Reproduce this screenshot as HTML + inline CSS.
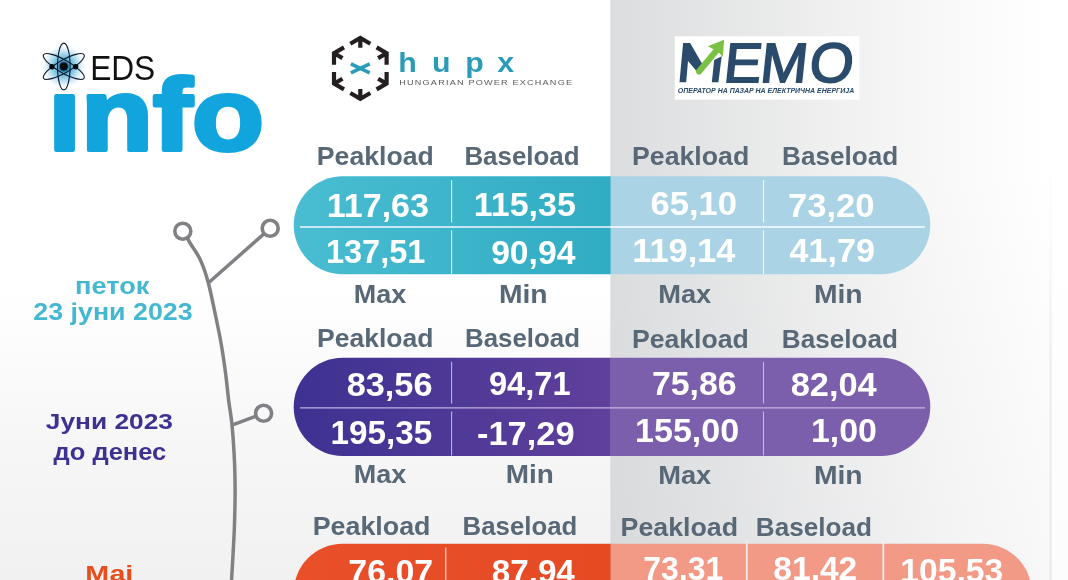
<!DOCTYPE html>
<html lang="mk"><head><meta charset="utf-8"><title>EDS info</title>
<style>html,body{margin:0;padding:0;background:#fff;}svg{display:block}text{white-space:pre}</style></head>
<body>
<svg width="1068" height="580" viewBox="0 0 1068 580">
<defs>
<linearGradient id="bgL" x1="0" y1="0" x2="0" y2="1"><stop offset="0" stop-color="#ffffff"/><stop offset="0.5" stop-color="#ffffff"/><stop offset="0.78" stop-color="#f6f6f7"/><stop offset="1" stop-color="#f1f1f2"/></linearGradient>
<linearGradient id="bgR" x1="0" y1="0" x2="1" y2="0"><stop offset="0" stop-color="#b9bbbd" stop-opacity="0.50"/><stop offset="0.25" stop-color="#b9bbbd" stop-opacity="0.37"/><stop offset="0.5" stop-color="#b9bbbd" stop-opacity="0.23"/><stop offset="0.75" stop-color="#b9bbbd" stop-opacity="0.10"/><stop offset="1" stop-color="#b9bbbd" stop-opacity="0.0"/></linearGradient>
<linearGradient id="g1" x1="0" y1="0" x2="1" y2="0"><stop offset="0" stop-color="#4abdd2"/><stop offset="1" stop-color="#30acc3"/></linearGradient>
<linearGradient id="g2" x1="0" y1="0" x2="1" y2="0"><stop offset="0" stop-color="#3d3192"/><stop offset="1" stop-color="#60409b"/></linearGradient>
<linearGradient id="g3" x1="0" y1="0" x2="1" y2="0"><stop offset="0" stop-color="#e9502a"/><stop offset="1" stop-color="#e54a23"/></linearGradient>
<radialGradient id="glow" cx="0.5" cy="0.5" r="0.5"><stop offset="0" stop-color="#2f9fd0" stop-opacity="1"/><stop offset="0.45" stop-color="#49abd6" stop-opacity="0.75"/><stop offset="1" stop-color="#7cc4e4" stop-opacity="0"/></radialGradient>
<linearGradient id="edge" x1="0" y1="0" x2="0" y2="1"><stop offset="0" stop-color="#f1f1f2" stop-opacity="0"/><stop offset="0.5" stop-color="#f0f0f1" stop-opacity="1"/><stop offset="1" stop-color="#ececed"/></linearGradient>
<linearGradient id="bgE" x1="0" y1="0" x2="0" y2="1"><stop offset="0" stop-color="#ffffff"/><stop offset="0.4" stop-color="#ffffff"/><stop offset="1" stop-color="#fcfcfc"/></linearGradient>
<linearGradient id="bgC" x1="0" y1="0" x2="0" y2="1"><stop offset="0" stop-color="#ffffff"/><stop offset="0.3" stop-color="#ffffff"/><stop offset="1" stop-color="#f8f8f9"/></linearGradient>
<clipPath id="c1"><rect x="293.7" y="176.2" width="636.6" height="98.1" rx="49" ry="49"/></clipPath>
<clipPath id="c2"><rect x="293.7" y="357.8" width="636.6" height="98.1" rx="49" ry="49"/></clipPath>
<clipPath id="c3"><rect x="293.7" y="543.7" width="738" height="98" rx="49" ry="49"/></clipPath>
</defs>
<rect x="0" y="0" width="1068" height="580" fill="#ffffff"/>
<rect x="0" y="0" width="1049.5" height="580" fill="url(#bgL)"/>
<rect x="610.3" y="0" width="439.2" height="580" fill="url(#bgC)"/>
<rect x="610.3" y="0" width="439.2" height="580" fill="url(#bgR)"/>
<rect x="1049.5" y="0" width="18.5" height="580" fill="url(#bgE)"/>
<rect x="1049.3" y="150" width="2.6" height="430" fill="url(#edge)"/>
<g clip-path="url(#c1)">
<rect x="290" y="175.2" width="320.8" height="100.10000000000002" fill="url(#g1)"/>
<rect x="610.8" y="175.2" width="321.5" height="100.10000000000002" fill="#aad4e5"/>
</g>
<g clip-path="url(#c2)">
<rect x="290" y="356.8" width="320.8" height="100.09999999999997" fill="url(#g2)"/>
<rect x="610.8" y="356.8" width="321.5" height="100.09999999999997" fill="#7b5fac"/>
</g>
<g clip-path="url(#c3)">
<rect x="290" y="542.7" width="320.8" height="100.29999999999995" fill="url(#g3)"/>
<rect x="610.8" y="542.7" width="423.20000000000005" height="100.29999999999995" fill="#f29a86"/>
</g>
<g stroke="#ffffff" stroke-opacity="0.92" stroke-width="1.1" fill="none">
<line x1="300" y1="227" x2="925" y2="227" stroke-width="1.3"/>
<line x1="451.6" y1="180.2" x2="451.6" y2="222.5"/>
<line x1="451.6" y1="230.5" x2="451.6" y2="273.8"/>
<line x1="763.5" y1="180.2" x2="763.5" y2="222.5"/>
<line x1="763.5" y1="230.5" x2="763.5" y2="273.8"/>
</g>
<g stroke="#cdbfe6" stroke-opacity="0.9" stroke-width="1.1" fill="none">
<line x1="300" y1="407.9" x2="925" y2="407.9" stroke-width="1.3"/>
<line x1="451.6" y1="361.8" x2="451.6" y2="403.4"/>
<line x1="451.6" y1="411.4" x2="451.6" y2="455.4"/>
<line x1="763.5" y1="361.8" x2="763.5" y2="403.4"/>
<line x1="763.5" y1="411.4" x2="763.5" y2="455.4"/>
</g>
<g stroke="#ffffff" stroke-opacity="0.8" fill="none">
<line x1="445.8" y1="547.5" x2="445.8" y2="580" stroke-width="1.1"/>
<line x1="746.8" y1="540.5" x2="746.8" y2="580" stroke-width="1.8" stroke="#ececed" stroke-opacity="1"/>
<line x1="883.3" y1="540.5" x2="883.3" y2="580" stroke-width="1.8" stroke="#f1f1f2" stroke-opacity="1"/>
</g>
<g stroke="#808184" stroke-width="3.5" fill="none" stroke-linecap="butt">
<path d="M187.4,237.6 C187.8,238.5 187.8,239.3 190.0,243.0 C192.2,246.7 197.4,253.5 200.4,260.0 C203.4,266.5 205.7,273.2 208.1,282.0 C210.5,290.8 212.8,302.7 215.0,313.0 C217.2,323.3 219.4,333.7 221.2,344.0 C223.0,354.3 224.6,365.7 225.8,375.0 C227.0,384.3 227.6,391.7 228.6,400.0 C229.6,408.3 231.0,414.5 232.0,424.8 C233.0,435.1 234.0,450.6 234.5,462.0 C235.0,473.4 235.1,482.7 235.1,493.0 C235.1,503.3 234.8,513.7 234.5,524.0 C234.2,534.3 233.5,545.3 233.0,555.0 C232.5,564.7 231.7,577.5 231.4,582.0"/>
<line x1="208.3" y1="283" x2="264.2" y2="233.6"/>
<line x1="232" y1="425.2" x2="256.1" y2="416.1"/>
<circle cx="182.8" cy="231.2" r="8" stroke-width="3.6"/>
<circle cx="270.2" cy="228.3" r="8" stroke-width="3.6"/>
<circle cx="263.6" cy="413.3" r="8" stroke-width="3.6"/>
</g>
<g stroke="#231f20" stroke-width="4.2" fill="none" stroke-linecap="butt" stroke-linejoin="miter">
<path d="M350.3,43.8 L360.3,38.0 L370.3,43.8 M360.3,38.0 L360.3,47.8"/>
<path d="M376.6,47.4 L386.6,53.2 L386.6,64.8 M386.6,53.2 L378.1,58.1"/>
<path d="M386.6,72.0 L386.6,83.6 L376.6,89.4 M386.6,83.6 L378.1,78.7"/>
<path d="M370.3,93.0 L360.3,98.8 L350.3,93.0 M360.3,98.8 L360.3,89.0"/>
<path d="M344.0,89.4 L334.0,83.6 L334.0,72.0 M334.0,83.6 L342.5,78.7"/>
<path d="M334.0,64.8 L334.0,53.2 L344.0,47.4 M334.0,53.2 L342.5,58.1"/>
</g>
<g stroke="#2b9cb8" stroke-width="3.6" fill="none"><line x1="350.90000000000003" y1="63.900000000000006" x2="369.7" y2="72.9"/><line x1="350.90000000000003" y1="72.9" x2="369.7" y2="63.900000000000006"/></g>
<rect x="674.8" y="36.3" width="184.6" height="63.3" fill="#ffffff"/>
<text transform="translate(316.84,164.50) scale(1.0365,1.0000)" font-family="'Liberation Sans', sans-serif" font-weight="bold" font-size="25.7" fill="#596877"  >Peakload</text>
<text transform="translate(464.38,164.50) scale(1.0088,1.0000)" font-family="'Liberation Sans', sans-serif" font-weight="bold" font-size="25.7" fill="#596877"  >Baseload</text>
<text transform="translate(632.03,165.40) scale(1.0392,1.0000)" font-family="'Liberation Sans', sans-serif" font-weight="bold" font-size="25.7" fill="#596877"  >Peakload</text>
<text transform="translate(782.07,165.40) scale(1.0169,1.0000)" font-family="'Liberation Sans', sans-serif" font-weight="bold" font-size="25.7" fill="#596877"  >Baseload</text>
<text transform="translate(326.67,216.80) scale(1.0237,1.0000)" font-family="'Liberation Sans', sans-serif" font-weight="bold" font-size="33.3" fill="#ffffff"  >117,63</text>
<text transform="translate(325.97,263.20) scale(0.9763,1.0000)" font-family="'Liberation Sans', sans-serif" font-weight="bold" font-size="33.3" fill="#ffffff"  >137,51</text>
<text transform="translate(473.78,215.60) scale(1.0206,1.0000)" font-family="'Liberation Sans', sans-serif" font-weight="bold" font-size="33.3" fill="#ffffff"  >115,35</text>
<text transform="translate(491.15,264.20) scale(1.0109,1.0000)" font-family="'Liberation Sans', sans-serif" font-weight="bold" font-size="33.3" fill="#ffffff"  >90,94</text>
<text transform="translate(650.62,215.40) scale(1.0366,1.0000)" font-family="'Liberation Sans', sans-serif" font-weight="bold" font-size="33.3" fill="#ffffff"  >65,10</text>
<text transform="translate(632.36,261.70) scale(1.0301,1.0000)" font-family="'Liberation Sans', sans-serif" font-weight="bold" font-size="33.3" fill="#ffffff"  >119,14</text>
<text transform="translate(787.92,217.20) scale(1.0403,1.0000)" font-family="'Liberation Sans', sans-serif" font-weight="bold" font-size="33.3" fill="#ffffff"  >73,20</text>
<text transform="translate(789.60,261.70) scale(1.0242,1.0000)" font-family="'Liberation Sans', sans-serif" font-weight="bold" font-size="33.3" fill="#ffffff"  >41,79</text>
<text transform="translate(353.71,302.50) scale(1.0504,1.0000)" font-family="'Liberation Sans', sans-serif" font-weight="bold" font-size="25.7" fill="#596877"  >Max</text>
<text transform="translate(498.93,302.50) scale(1.1015,1.0000)" font-family="'Liberation Sans', sans-serif" font-weight="bold" font-size="25.7" fill="#596877"  >Min</text>
<text transform="translate(658.19,303.10) scale(1.0628,1.0000)" font-family="'Liberation Sans', sans-serif" font-weight="bold" font-size="25.7" fill="#596877"  >Max</text>
<text transform="translate(813.93,303.10) scale(1.1015,1.0000)" font-family="'Liberation Sans', sans-serif" font-weight="bold" font-size="25.7" fill="#596877"  >Min</text>
<text transform="translate(316.94,347.40) scale(1.0328,1.0000)" font-family="'Liberation Sans', sans-serif" font-weight="bold" font-size="25.7" fill="#596877"  >Peakload</text>
<text transform="translate(465.08,347.40) scale(1.0061,1.0000)" font-family="'Liberation Sans', sans-serif" font-weight="bold" font-size="25.7" fill="#596877"  >Baseload</text>
<text transform="translate(631.94,348.30) scale(1.0365,1.0000)" font-family="'Liberation Sans', sans-serif" font-weight="bold" font-size="25.7" fill="#596877"  >Peakload</text>
<text transform="translate(781.87,348.30) scale(1.0160,1.0000)" font-family="'Liberation Sans', sans-serif" font-weight="bold" font-size="25.7" fill="#596877"  >Baseload</text>
<text transform="translate(346.63,395.80) scale(1.0312,1.0000)" font-family="'Liberation Sans', sans-serif" font-weight="bold" font-size="33.3" fill="#ffffff"  >83,56</text>
<text transform="translate(330.52,443.80) scale(0.9986,1.0000)" font-family="'Liberation Sans', sans-serif" font-weight="bold" font-size="33.3" fill="#ffffff"  >195,35</text>
<text transform="translate(488.88,395.30) scale(0.9821,1.0000)" font-family="'Liberation Sans', sans-serif" font-weight="bold" font-size="33.3" fill="#ffffff"  >94,71</text>
<text transform="translate(477.03,444.60) scale(1.0329,1.0000)" font-family="'Liberation Sans', sans-serif" font-weight="bold" font-size="33.3" fill="#ffffff"  >-17,29</text>
<text transform="translate(651.94,395.30) scale(1.0177,1.0000)" font-family="'Liberation Sans', sans-serif" font-weight="bold" font-size="33.3" fill="#ffffff"  >75,86</text>
<text transform="translate(635.07,441.70) scale(1.0211,1.0000)" font-family="'Liberation Sans', sans-serif" font-weight="bold" font-size="33.3" fill="#ffffff"  >155,00</text>
<text transform="translate(790.63,396.30) scale(1.0327,1.0000)" font-family="'Liberation Sans', sans-serif" font-weight="bold" font-size="33.3" fill="#ffffff"  >82,04</text>
<text transform="translate(810.98,441.90) scale(1.0182,1.0000)" font-family="'Liberation Sans', sans-serif" font-weight="bold" font-size="33.3" fill="#ffffff"  >1,00</text>
<text transform="translate(353.71,483.40) scale(1.0504,1.0000)" font-family="'Liberation Sans', sans-serif" font-weight="bold" font-size="25.7" fill="#596877"  >Max</text>
<text transform="translate(505.85,483.40) scale(1.0870,1.0000)" font-family="'Liberation Sans', sans-serif" font-weight="bold" font-size="25.7" fill="#596877"  >Min</text>
<text transform="translate(658.19,484.10) scale(1.0628,1.0000)" font-family="'Liberation Sans', sans-serif" font-weight="bold" font-size="25.7" fill="#596877"  >Max</text>
<text transform="translate(813.93,484.10) scale(1.1015,1.0000)" font-family="'Liberation Sans', sans-serif" font-weight="bold" font-size="25.7" fill="#596877"  >Min</text>
<text transform="translate(312.72,534.50) scale(1.0438,1.0000)" font-family="'Liberation Sans', sans-serif" font-weight="bold" font-size="25.7" fill="#596877"  >Peakload</text>
<text transform="translate(462.59,534.50) scale(1.0043,1.0000)" font-family="'Liberation Sans', sans-serif" font-weight="bold" font-size="25.7" fill="#596877"  >Baseload</text>
<text transform="translate(620.53,535.90) scale(1.0420,1.0000)" font-family="'Liberation Sans', sans-serif" font-weight="bold" font-size="25.7" fill="#596877"  >Peakload</text>
<text transform="translate(755.77,536.00) scale(1.0169,1.0000)" font-family="'Liberation Sans', sans-serif" font-weight="bold" font-size="25.7" fill="#596877"  >Baseload</text>
<text transform="translate(348.34,583.20) scale(1.0180,1.0000)" font-family="'Liberation Sans', sans-serif" font-weight="bold" font-size="33.3" fill="#ffffff"  >76,07</text>
<text transform="translate(491.66,583.20) scale(0.9988,1.0000)" font-family="'Liberation Sans', sans-serif" font-weight="bold" font-size="33.3" fill="#ffffff"  >87,94</text>
<text transform="translate(643.30,579.50) scale(0.9600,1.0000)" font-family="'Liberation Sans', sans-serif" font-weight="bold" font-size="33.3" fill="#ffffff"  >73,31</text>
<text transform="translate(773.35,579.50) scale(1.0066,1.0000)" font-family="'Liberation Sans', sans-serif" font-weight="bold" font-size="33.3" fill="#ffffff"  >81,42</text>
<text transform="translate(900.30,581.60) scale(1.0097,1.0000)" font-family="'Liberation Sans', sans-serif" font-weight="bold" font-size="33.3" fill="#ffffff"  >105,53</text>
<text transform="translate(75.09,294.00) scale(1.1322,1.0000)" font-family="'Liberation Sans', sans-serif" font-weight="bold" font-size="24" fill="#45B8D1"  >петок</text>
<text transform="translate(33.29,319.80) scale(1.1357,1.0000)" font-family="'Liberation Sans', sans-serif" font-weight="bold" font-size="23.6" fill="#45B8D1"  >23 јуни 2023</text>
<text transform="translate(45.85,429.30) scale(1.1649,1.0000)" font-family="'Liberation Sans', sans-serif" font-weight="bold" font-size="22.6" fill="#3D3192"  >Јуни 2023</text>
<text transform="translate(53.59,460.40) scale(1.0910,1.0000)" font-family="'Liberation Sans', sans-serif" font-weight="bold" font-size="23.4" fill="#3D3192"  >до денес</text>
<text transform="translate(85.20,580.80) scale(1.2675,1.0000)" font-family="'Liberation Sans', sans-serif" font-weight="bold" font-size="22.6" fill="#E84E1B"  >Мај</text>
<text transform="translate(90.13,79.80) scale(0.9098,1.0000)" font-family="'Liberation Sans', sans-serif" font-weight="normal" font-size="34.8" fill="#111111"  >EDS</text>
<text transform="translate(48.24,150.20) scale(1.1546,1.0000)" font-family="'Liberation Sans', sans-serif" font-weight="bold" font-size="102" fill="#12A5DD"  stroke="#12A5DD" stroke-width="4" stroke-linejoin="round">info</text>
<text transform="translate(399.28,85.20) scale(1.2001,1.0000)" font-family="'Liberation Sans', sans-serif" font-weight="normal" font-size="7.6" fill="#58595B" letter-spacing="1.0" >HUNGARIAN POWER EXCHANGE</text>
<text transform="translate(677.78,93.40) scale(1.0936,1.0000)" font-family="'Liberation Sans', sans-serif" font-weight="bold" font-size="6.4" fill="#2A4B6C"  font-style="italic">ОПЕРАТОР НА ПАЗАР НА ЕЛЕКТРИЧНА ЕНЕРГИЈА</text>
<text transform="translate(0,71.6) skewX(0) scale(1.1246,1)" x="354.09 384.13 413.73 442.13" y="0" font-family="'Liberation Sans', sans-serif" font-weight="bold" font-size="27" fill="#2B9CB8" >hupx</text>
<text transform="translate(0,82.4) skewX(-6) scale(1.0178,1)" x="663.30 709.85 745.78 793.89" y="0" font-family="'Liberation Sans', sans-serif" font-weight="normal" font-size="55.5" fill="#2A4B6C" stroke="#2A4B6C" stroke-width="1.8">MEMO</text>
<rect x="676" y="38" width="48.5" height="46" fill="#ffffff"/>
<polygon points="679.5,82.3 686.2,82.3 688.0,61.1 697.9,72.8 703.6,66.3 690.1,43.0 683.1,43.0" fill="#2a4b6c"/>
<polygon points="711.8,82.3 718.4,82.3 721.7,56.3 714.2,59.9" fill="#2a4b6c"/>
<line x1="699.0" y1="71.4" x2="718.4" y2="48.2" stroke="#7ac143" stroke-width="6.2" stroke-linecap="round"/>
<polygon points="724.1,39.8 707.9,46.3 714.5,49.7 719.6,53.3 722.9,56.9" fill="#7ac143"/>
<rect x="50" y="74" width="30" height="18.4" fill="#ffffff"/>
<circle cx="63.8" cy="66.5" r="21" fill="url(#glow)"/>
<g stroke="#0b1a2b" stroke-width="1.1" fill="none">
<ellipse cx="63.8" cy="66.5" rx="6.3" ry="23.4" transform="rotate(0 63.8 66.5)"/>
<ellipse cx="63.8" cy="66.5" rx="6.3" ry="23.4" transform="rotate(60 63.8 66.5)"/>
<ellipse cx="63.8" cy="66.5" rx="6.3" ry="23.4" transform="rotate(120 63.8 66.5)"/>
</g>
<circle cx="63.8" cy="66.5" r="5.2" fill="#1d6fa3"/><circle cx="63.8" cy="66.5" r="3.9" fill="#05080c"/>
<circle cx="52.0" cy="66.7" r="2.7" fill="#05080c"/><circle cx="75.6" cy="66.7" r="2.7" fill="#05080c"/>
</svg>
</body></html>
